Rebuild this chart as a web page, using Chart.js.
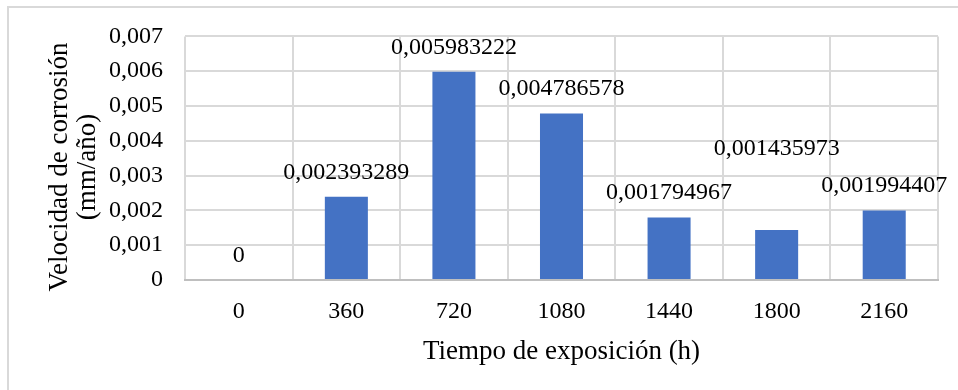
<!DOCTYPE html>
<html>
<head>
<meta charset="utf-8">
<script src="https://cdn.jsdelivr.net/npm/chart.js@4/dist/chart.umd.min.js"></script>
<style>
  html, body { margin: 0; padding: 0; background: #fff; }
  #wrap { position: relative; width: 958px; height: 390px; }
</style>
</head>
<body>
<div id="wrap"><canvas id="c"></canvas></div>
<script>
// Exposure time (h) and corrosion rate (mm/año)
const categories = ['0', '360', '720', '1080', '1440', '1800', '2160'];
const corrosionRate = [0, 0.002393289, 0.005983222, 0.004786578, 0.001794967, 0.001435973, 0.001994407];
const yTicks = [0, 0.001, 0.002, 0.003, 0.004, 0.005, 0.006, 0.007];
const yTitle = ['Velocidad de corrosión', '(mm/año)'];
const xTitle = 'Tiempo de exposición (h)';

const FONT = "'Liberation Serif', 'Times New Roman', serif";
const GRID = '#d9d9d9';

const fmt = v => (v === 0 ? '0' : String(v).replace('.', ','));

// Light frame around the whole chart (its right and bottom edges run off the canvas)
const framePlugin = {
  id: 'frame',
  beforeDraw(chart) {
    const ctx = chart.ctx;
    ctx.save();
    ctx.fillStyle = '#fff';
    ctx.fillRect(0, 0, chart.width, chart.height);
    ctx.strokeStyle = GRID;
    ctx.lineWidth = 2;
    ctx.strokeRect(8, 7, chart.width + 10, chart.height + 10);
    ctx.restore();
  }
};

// Two-line vertical axis title, centred a little below the plot middle
const yTitlePlugin = {
  id: 'yTitle',
  afterDraw(chart, args, opts) {
    const ctx = chart.ctx;
    ctx.save();
    ctx.font = opts.font;
    ctx.fillStyle = '#000';
    ctx.textAlign = 'center';
    ctx.textBaseline = 'middle';
    ctx.translate(opts.x, opts.y);
    ctx.rotate(-Math.PI / 2);
    opts.text.forEach((line, i) => ctx.fillText(line, 0, i * opts.lineHeight));
    ctx.restore();
  }
};

// Value labels above each bar
const valueLabels = {
  id: 'valueLabels',
  afterDatasetsDraw(chart, args, opts) {
    const ctx = chart.ctx;
    const meta = chart.getDatasetMeta(0);
    const data = chart.data.datasets[0].data;
    ctx.save();
    ctx.font = opts.font;
    ctx.fillStyle = '#000';
    ctx.textAlign = 'center';
    ctx.textBaseline = 'middle';
    meta.data.forEach((bar, i) => {
      const lift = opts.gap + (opts.extraLift[i] || 0);
      ctx.fillText(fmt(data[i]), bar.x, bar.y - lift);
    });
    ctx.restore();
  }
};

new Chart(document.getElementById('c'), {
  type: 'bar',
  data: {
    labels: categories,
    datasets: [{
      data: corrosionRate,
      backgroundColor: '#4472C4',
      borderWidth: 0,
      categoryPercentage: 1,
      barPercentage: 0.4
    }]
  },
  options: {
    responsive: true,
    maintainAspectRatio: false,
    animation: false,
    devicePixelRatio: 1,
    layout: { padding: { top: 36, right: 20, left: 0, bottom: 0 } },
    plugins: {
      legend: { display: false },
      tooltip: { enabled: false },
      valueLabels: { font: '24px ' + FONT, gap: 24.5, extraLift: { 5: 57 } },
      yTitle: { text: yTitle, font: '27px ' + FONT, x: 60, y: 167, lineHeight: 28 }
    },
    scales: {
      x: {
        offset: true,
        grid: { color: GRID, lineWidth: 2, drawTicks: false, offset: true },
        border: { color: '#bfbfbf', width: 2 },
        ticks: { color: '#000', font: { family: FONT, size: 24 }, padding: 17, maxRotation: 0 },
        title: {
          display: true,
          text: xTitle,
          color: '#000',
          font: { family: FONT, size: 27, lineHeight: '28px' },
          padding: { top: 0, bottom: 24 }
        },
        afterFit(scale) { scale.height = 110; }
      },
      y: {
        min: 0,
        max: 0.007,
        afterBuildTicks(scale) { scale.ticks = yTicks.map(v => ({ value: v })); },
        grid: { color: GRID, lineWidth: 2, drawTicks: false },
        border: { display: false },
        ticks: {
          color: '#000',
          font: { family: FONT, size: 24 },
          padding: 22,
          callback: v => fmt(Number(v.toFixed(3)))
        },
        afterFit(scale) { scale.width = 185; }
      }
    }
  },
  plugins: [framePlugin, valueLabels, yTitlePlugin]
});
</script>
</body>
</html>
